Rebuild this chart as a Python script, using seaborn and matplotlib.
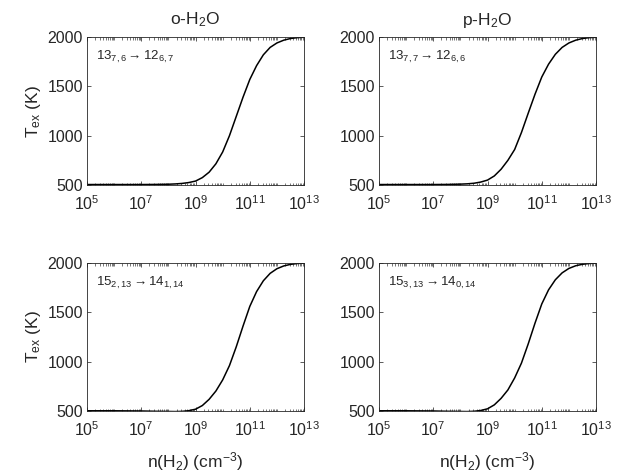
import numpy as np
import pandas as pd
import matplotlib
matplotlib.use("Agg")
import matplotlib.pyplot as plt
import matplotlib.ticker as mticker
import seaborn as sns

# log10 of n(H2) grid
log_n = [5, 6, 7, 7.5, 8, 8.25, 8.5, 8.75, 9.0, 9.25, 9.5, 9.75, 10.0, 10.25,
         10.5, 10.75, 11.0, 11.25, 11.5, 11.75, 12.0, 12.25, 12.5, 12.75, 13]

tex_o_13 = [505, 505, 505, 506, 508, 511, 516, 525, 540, 575, 630, 715, 835, 1000,
            1195, 1390, 1570, 1710, 1820, 1895, 1940, 1968, 1985, 1994, 1998]
tex_p_13 = [505, 505, 505, 506, 509, 512, 518, 530, 550, 592, 660, 750, 860, 1032,
            1228, 1420, 1595, 1725, 1825, 1895, 1940, 1968, 1985, 1994, 1998]
tex_o_15 = [502, 502, 500, 497, 495, 494, 496, 503, 518, 555, 618, 702, 815, 960,
            1150, 1360, 1560, 1710, 1820, 1895, 1942, 1970, 1986, 1995, 1999]
tex_p_15 = [502, 502, 500, 497, 495, 494, 497, 505, 522, 562, 628, 713, 835, 985,
            1180, 1390, 1585, 1728, 1830, 1900, 1945, 1972, 1987, 1995, 1999]

titles = ["o-H$_2$O", "p-H$_2$O"]
transitions = ["13$_{7,6}$$\\rightarrow$12$_{6,7}$",
               "13$_{7,7}$$\\rightarrow$12$_{6,6}$",
               "15$_{2,13}$$\\rightarrow$14$_{1,14}$",
               "15$_{3,13}$$\\rightarrow$14$_{0,14}$"]
series = [tex_o_13, tex_p_13, tex_o_15, tex_p_15]
yticks = [500, 1000, 1500, 2000]

sns.set_style("ticks")
plt.rcParams['font.family'] = ['Liberation Sans', 'DejaVu Sans']
plt.rcParams['mathtext.fontset'] = 'custom'
plt.rcParams['mathtext.rm'] = 'Liberation Sans'
plt.rcParams['mathtext.it'] = 'Liberation Sans'
plt.rcParams['mathtext.default'] = 'regular'

fig = plt.figure(figsize=(6.32, 4.76), dpi=100)
lefts = [0.1377, 0.5997]
bottoms = [0.6113, 0.1366]
w, h = 0.3434, 0.3109

for i in range(4):
    r, c = divmod(i, 2)
    ax = fig.add_axes([lefts[c], bottoms[r], w, h])
    df = pd.DataFrame({"n": 10.0 ** np.array(log_n), "T": series[i]})
    sns.lineplot(data=df, x="n", y="T", ax=ax, color="black", linewidth=1.1)
    ax.set_xscale("log")
    ax.set_xlim(1e5, 1e13)
    ax.set_ylim(500, 2000)
    ax.set_yticks(yticks)
    ax.xaxis.set_major_locator(mticker.FixedLocator([1e5, 1e7, 1e9, 1e11, 1e13]))
    ax.xaxis.set_major_formatter(mticker.LogFormatterSciNotation())
    ax.xaxis.set_minor_locator(mticker.LogLocator(base=10, subs=np.arange(1, 10), numticks=50))
    ax.xaxis.set_minor_formatter(mticker.NullFormatter())
    ax.tick_params(which="both", direction="in", top=True, right=True,
                   color="#404040", labelsize=11.5, labelcolor="#262626")
    ax.tick_params(which="major", length=3, width=0.6)
    ax.tick_params(which="minor", length=1.8, width=0.5)
    ax.tick_params(axis="y", pad=3)
    ax.tick_params(axis="x", pad=7)
    for s in ax.spines.values():
        s.set_linewidth(0.6)
        s.set_color("#262626")
    ax.set_xlabel("")
    ax.set_ylabel("")
    if c == 0:
        ax.set_ylabel("T$_{ex}$ (K)", fontsize=12.5, color="#262626", labelpad=3)
    if r == 0:
        ax.set_title(titles[c], fontsize=12.5, pad=9)
    else:
        ax.set_xlabel("n(H$_2$) (cm$^{-3}$)", fontsize=12.5, color="#262626", labelpad=8)
    ax.text(0.04, 0.865, transitions[i], transform=ax.transAxes,
            fontsize=9.5, va="center", ha="left")

fig.savefig("out.png", dpi=100)
